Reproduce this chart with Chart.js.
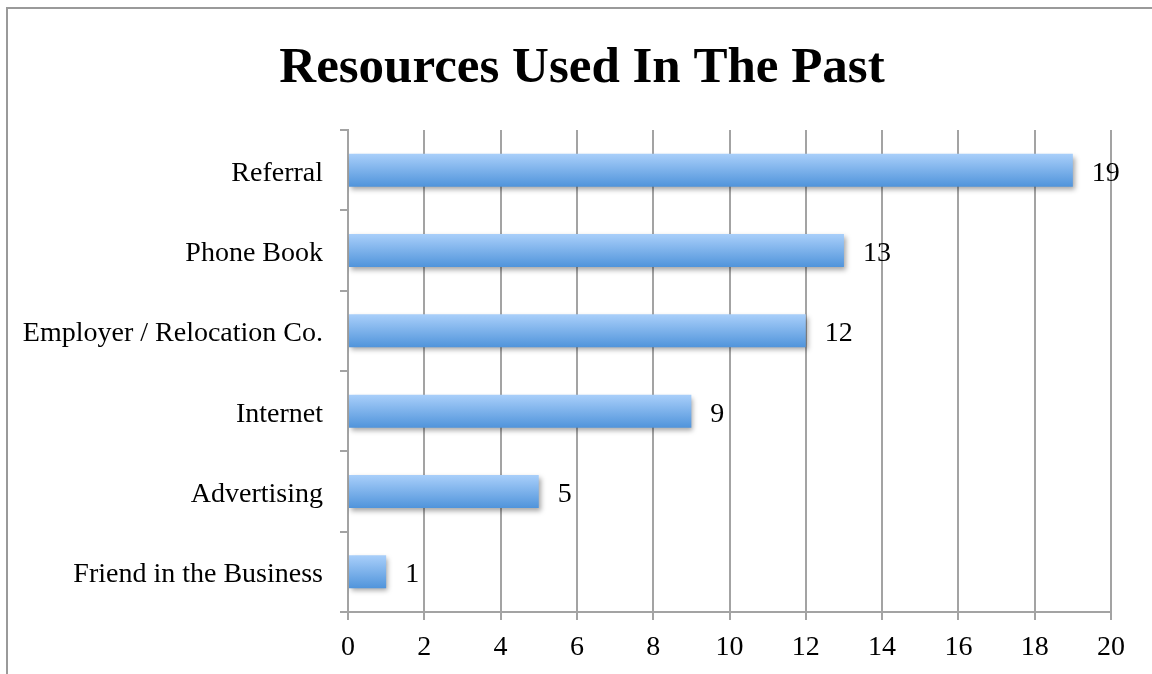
<!DOCTYPE html>
<html>
<head>
<meta charset="utf-8">
<script src="https://cdn.jsdelivr.net/npm/chart.js@4.4.1/dist/chart.umd.min.js"></script>
<style>
  html, body { margin: 0; padding: 0; background: #fff; }
  #wrap { position: relative; width: 1152px; height: 674px; overflow: hidden; }
  #frame { position: absolute; left: 6px; top: 7px; width: 1200px; height: 720px; border: 2px solid #9a9a9a; box-sizing: border-box; }
  canvas { position: absolute; left: 0; top: 0; }
</style>
</head>
<body>
<div id="wrap">
  <div id="frame"></div>
  <canvas id="resChart" width="1152" height="674"></canvas>
</div>
<script>
// chart data
const chartTitle = 'Resources Used In The Past';
const categories = ['Referral', 'Phone Book', 'Employer / Relocation Co.', 'Internet', 'Advertising', 'Friend in the Business'];
const counts = [19, 13, 12, 9, 5, 1];
const axisMin = 0;
const axisMax = 20;
const axisStep = 2;

const serif = '"Liberation Serif", "DejaVu Serif", serif';

// vertical gradient per bar, light on top, darker at bottom
function barGradient(context) {
    const chart = context.chart;
    const yScale = chart.scales.y;
    if (!yScale || !chart.chartArea) return '#7fb2ee';
    const center = yScale.getPixelForValue(context.dataIndex);
    const half = 16.5;
    const g = chart.ctx.createLinearGradient(0, center - half, 0, center + half);
    g.addColorStop(0, '#a9cffa');
    g.addColorStop(1, '#5094db');
    return g;
}

// soft shadow under the bars
const barShadow = {
    id: 'barShadow',
    beforeDatasetsDraw(chart) {
        const ctx = chart.ctx;
        ctx.save();
        ctx.shadowColor = 'rgba(0,0,0,0.35)';
        ctx.shadowBlur = 5;
        ctx.shadowOffsetX = 2;
        ctx.shadowOffsetY = 3;
    },
    afterDatasetsDraw(chart) {
        chart.ctx.restore();
    }
};

// title, centred on the outer frame rather than the canvas
const frameTitle = {
    id: 'frameTitle',
    afterDraw(chart) {
        const ctx = chart.ctx;
        ctx.save();
        ctx.font = 'bold 51px ' + serif;
        ctx.fillStyle = '#000';
        ctx.textAlign = 'center';
        ctx.textBaseline = 'alphabetic';
        ctx.fillText(chartTitle, 582, 82);
        ctx.restore();
    }
};

// value labels right of each bar
const valueLabels = {
    id: 'valueLabels',
    afterDraw(chart) {
        const ctx = chart.ctx;
        const meta = chart.getDatasetMeta(0);
        ctx.save();
        ctx.font = '28px ' + serif;
        ctx.fillStyle = '#000';
        ctx.textAlign = 'left';
        ctx.textBaseline = 'middle';
        meta.data.forEach((bar, i) => {
            ctx.fillText(String(chart.data.datasets[0].data[i]), bar.x + 19, bar.y + 3);
        });
        ctx.restore();
    }
};

var ctx = document.getElementById('resChart').getContext('2d');

var resChart = new Chart(ctx, {
    type: 'bar',
    data: {
        labels: categories,
        datasets: [{
            label: 'Resources',
            data: counts,
            backgroundColor: barGradient,
            borderWidth: 0,
            barPercentage: 0.41,
            categoryPercentage: 1
        }]
    },
    options: {
        indexAxis: 'y',
        responsive: false,
        animation: false,
        devicePixelRatio: 1,
        layout: {
            padding: { left: 0, right: 41, top: 130, bottom: 0 }
        },
        plugins: {
            legend: { display: false },
            tooltip: { enabled: false },
            title: { display: false }
        },
        scales: {
            x: {
                min: axisMin,
                max: axisMax,
                ticks: {
                    stepSize: axisStep,
                    color: '#000',
                    font: { family: serif, size: 28 },
                    padding: 11
                },
                grid: {
                    color: '#a3a3a3',
                    lineWidth: 2,
                    tickLength: 8
                },
                border: { color: '#a3a3a3', width: 2 },
                afterFit(scale) { scale.height = 62; }
            },
            y: {
                ticks: {
                    color: '#000',
                    font: { family: serif, size: 28 },
                    padding: 17,
                    labelOffset: 3
                },
                grid: {
                    drawOnChartArea: false,
                    color: '#a3a3a3',
                    lineWidth: 2,
                    tickLength: 8
                },
                border: { color: '#a3a3a3', width: 2 },
                afterFit(scale) { scale.width = 348; }
            }
        }
    },
    plugins: [barShadow, valueLabels, frameTitle]
});
</script>
</body>
</html>
